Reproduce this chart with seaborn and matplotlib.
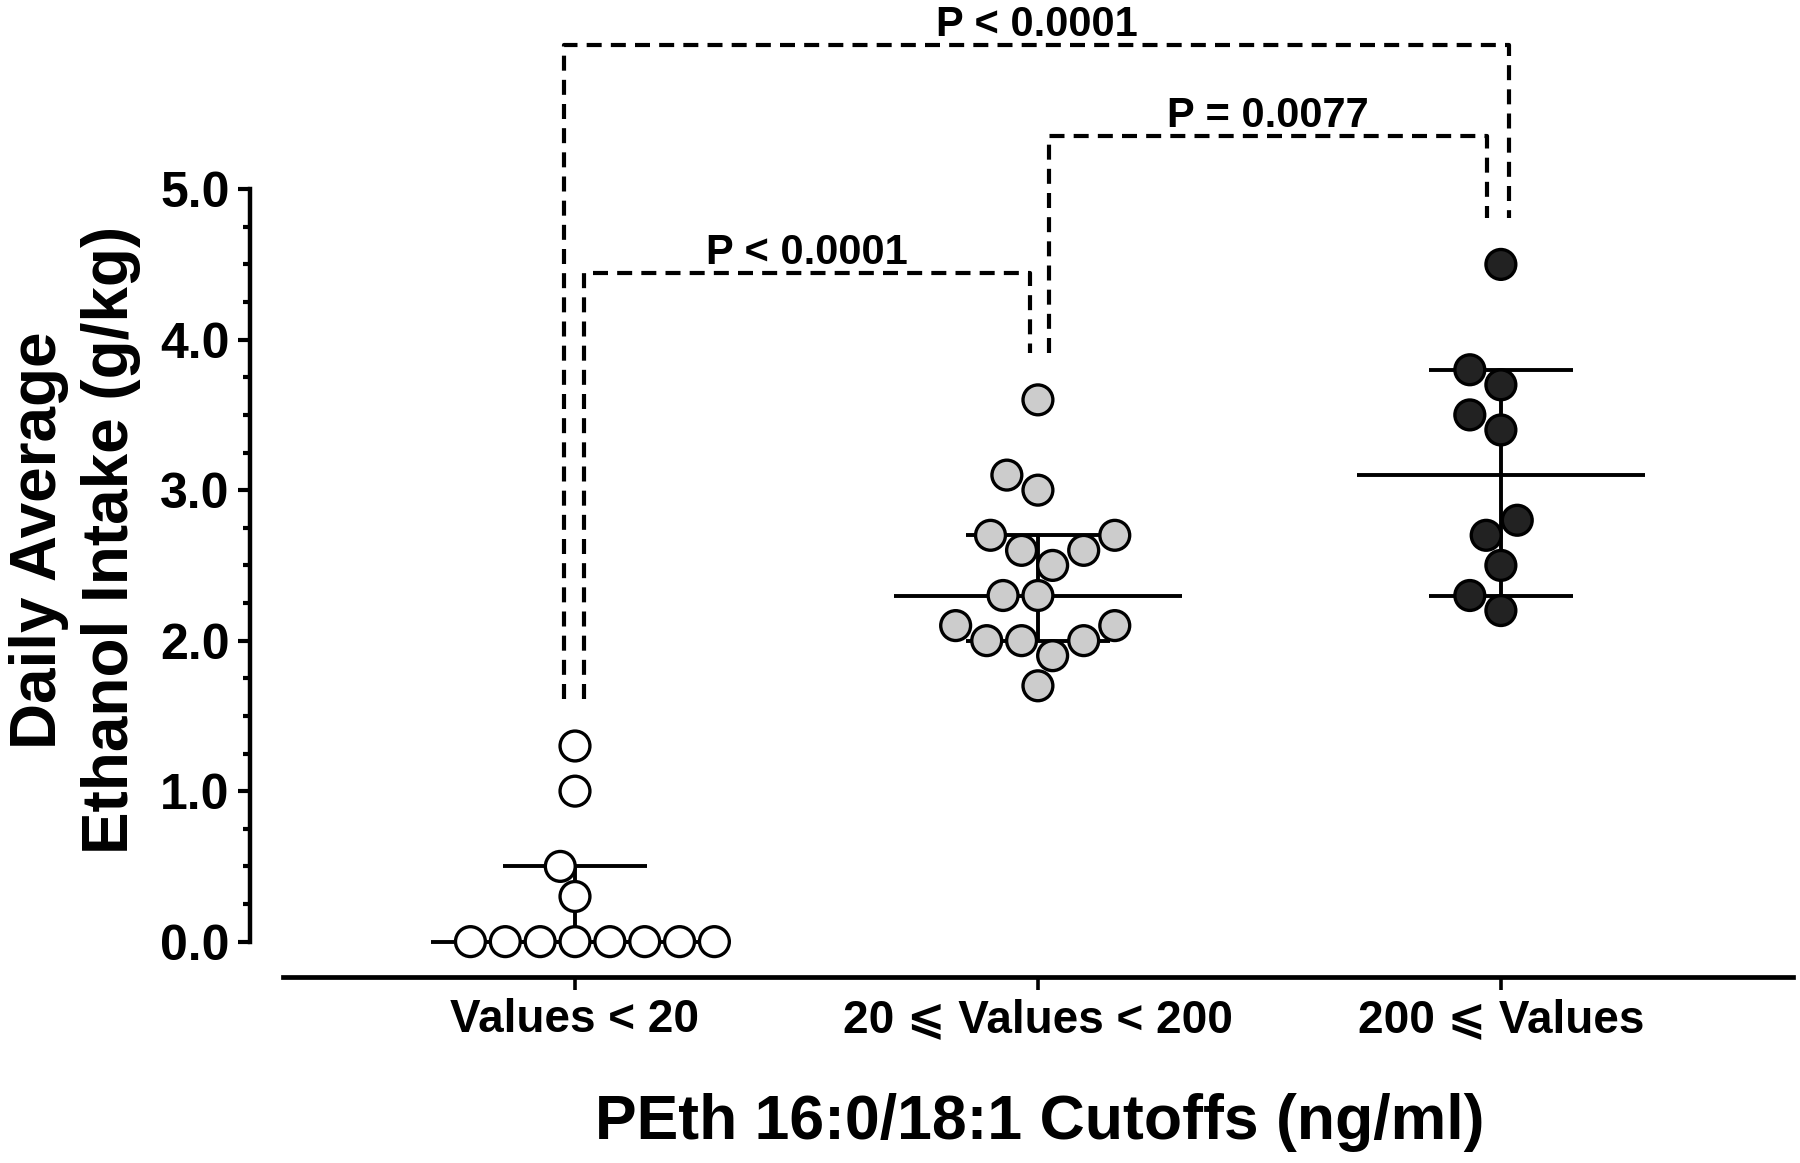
import numpy as np
import pandas as pd
import matplotlib
matplotlib.use("Agg")
import matplotlib.pyplot as plt
from matplotlib.ticker import FixedLocator
import seaborn as sns

# ---------------- data ----------------
groups = ["Values < 20", "20 \u2a7d Values < 200", "200 \u2a7d Values"]
values_low = [0.0, 0.0, 0.0, 0.0, 0.0, 0.0, 0.0, 0.0, 0.3, 0.5, 1.0, 1.3]
values_mid = [3.6, 3.1, 3.0, 2.7, 2.7, 2.6, 2.6, 2.5, 2.3, 2.3,
              2.1, 2.1, 2.0, 2.0, 2.0, 1.9, 1.7]
values_high = [4.5, 3.8, 3.7, 3.5, 3.4, 2.8, 2.7, 2.5, 2.3, 2.2]
medians = [0.0, 2.3, 3.1]
q1 = [0.0, 2.0, 2.3]
q3 = [0.5, 2.7, 3.8]
fill_colors = ["#ffffff", "#cccccc", "#222222"]
y_ticks = [0.0, 1.0, 2.0, 3.0, 4.0, 5.0]
y_ticklabels = ["0.0", "1.0", "2.0", "3.0", "4.0", "5.0"]
y_minor_ticks = [0.25, 0.5, 0.75, 1.25, 1.5, 1.75, 2.25, 2.5, 2.75,
                 3.25, 3.5, 3.75, 4.25, 4.5, 4.75]

bracket_pairs = [(0, 1), (1, 2), (0, 2)]
p_labels = ["P < 0.0001", "P = 0.0077", "P < 0.0001"]

# ---------------- layout constants ----------------
bracket_tops = [4.44, 5.35, 5.96]
leg_offsets = [(0.019, -0.018), (0.023, -0.030), (-0.024, 0.018)]
leg_gap = 0.31

# ---------------- figure ----------------
sns.set_style("ticks")
plt.rcParams["font.family"] = ["Liberation Sans", "DejaVu Sans"]
plt.rcParams["font.weight"] = "bold"
for k in ["text.color", "axes.labelcolor", "xtick.color", "ytick.color",
          "axes.edgecolor", "xtick.labelcolor", "ytick.labelcolor"]:
    plt.rcParams[k] = "black"

W, H = 1800, 1163
fig = plt.figure(figsize=(W / 100, H / 100), dpi=100)
ax = fig.add_axes([250 / W, 1 - 977 / H, (1793 - 250) / W, 977 / H])

all_vals = [values_low, values_mid, values_high]
df = pd.DataFrame({
    "group": sum([[g] * len(v) for g, v in zip(groups, all_vals)], []),
    "value": sum(all_vals, []),
})

sns.swarmplot(data=df, x="group", y="value", hue="group", order=groups,
              hue_order=groups, palette=fill_colors, size=21.5,
              edgecolor="black", linewidth=2.4, legend=False, ax=ax, zorder=3)

# median & interquartile range
for i in range(len(groups)):
    ax.hlines(medians[i], i - 0.311, i + 0.311, color="black", lw=2.8, zorder=2)
    ax.hlines([q1[i], q3[i]], i - 0.155, i + 0.155, color="black", lw=2.8, zorder=2)
    ax.vlines(i, q1[i], q3[i], color="black", lw=2.8, zorder=2)

# significance brackets
for (a, b), lab, top, (oa, ob) in zip(bracket_pairs, p_labels, bracket_tops, leg_offsets):
    xa, xb = a + oa, b + ob
    ya = max(all_vals[a]) + leg_gap
    yb = max(all_vals[b]) + leg_gap
    ax.plot([xa, xa, xb, xb], [ya, top, top, yb], color="black", lw=3.0,
            ls=(0, (3.6, 2.2)), dash_capstyle="butt", clip_on=False, zorder=1)
    ax.text((xa + xb) / 2, top + 0.06, lab, ha="center", va="baseline",
            fontsize=30, fontweight="bold", color="black", clip_on=False)

# axes
ax.set_xlim(-0.702, 2.631)
ax.set_ylim(-0.235, 6.257)
for s in ["top", "right"]:
    ax.spines[s].set_visible(False)
ax.spines["left"].set_bounds(0, 5)
ax.spines["bottom"].set_bounds(-0.631, 2.631)
ax.spines["left"].set_linewidth(3.2)
ax.spines["bottom"].set_linewidth(3.4)
ax.spines["left"].set_color("black")
ax.spines["bottom"].set_color("black")

ax.yaxis.set_major_locator(FixedLocator(y_ticks))
ax.set_yticklabels(y_ticklabels)
ax.yaxis.set_minor_locator(FixedLocator(y_minor_ticks))
ax.tick_params(axis="y", which="major", length=8.6, width=3.0, pad=6,
               labelsize=36, color="black", labelcolor="black")
ax.tick_params(axis="y", which="minor", length=5.0, width=3.0, color="black")
ax.tick_params(axis="x", which="major", length=9, width=2.6, pad=6,
               labelsize=33, color="black", labelcolor="black")
for lab in ax.get_xticklabels() + ax.get_yticklabels():
    lab.set_fontweight("bold")

ax.set_xlabel("")
ax.set_ylabel("")

fig.text(75 / W, 1 - 540 / H, "Daily Average\nEthanol Intake (g/kg)",
         rotation=90, ha="center", va="center", multialignment="center",
         fontsize=46, fontweight="bold", linespacing=1.27, color="black")
fig.text(1040 / W, 1 - 1123 / H, "PEth 16:0/18:1 Cutoffs (ng/ml)",
         ha="center", va="center", fontsize=45, fontweight="bold", color="black")

fig.savefig("out.png", dpi=100)
